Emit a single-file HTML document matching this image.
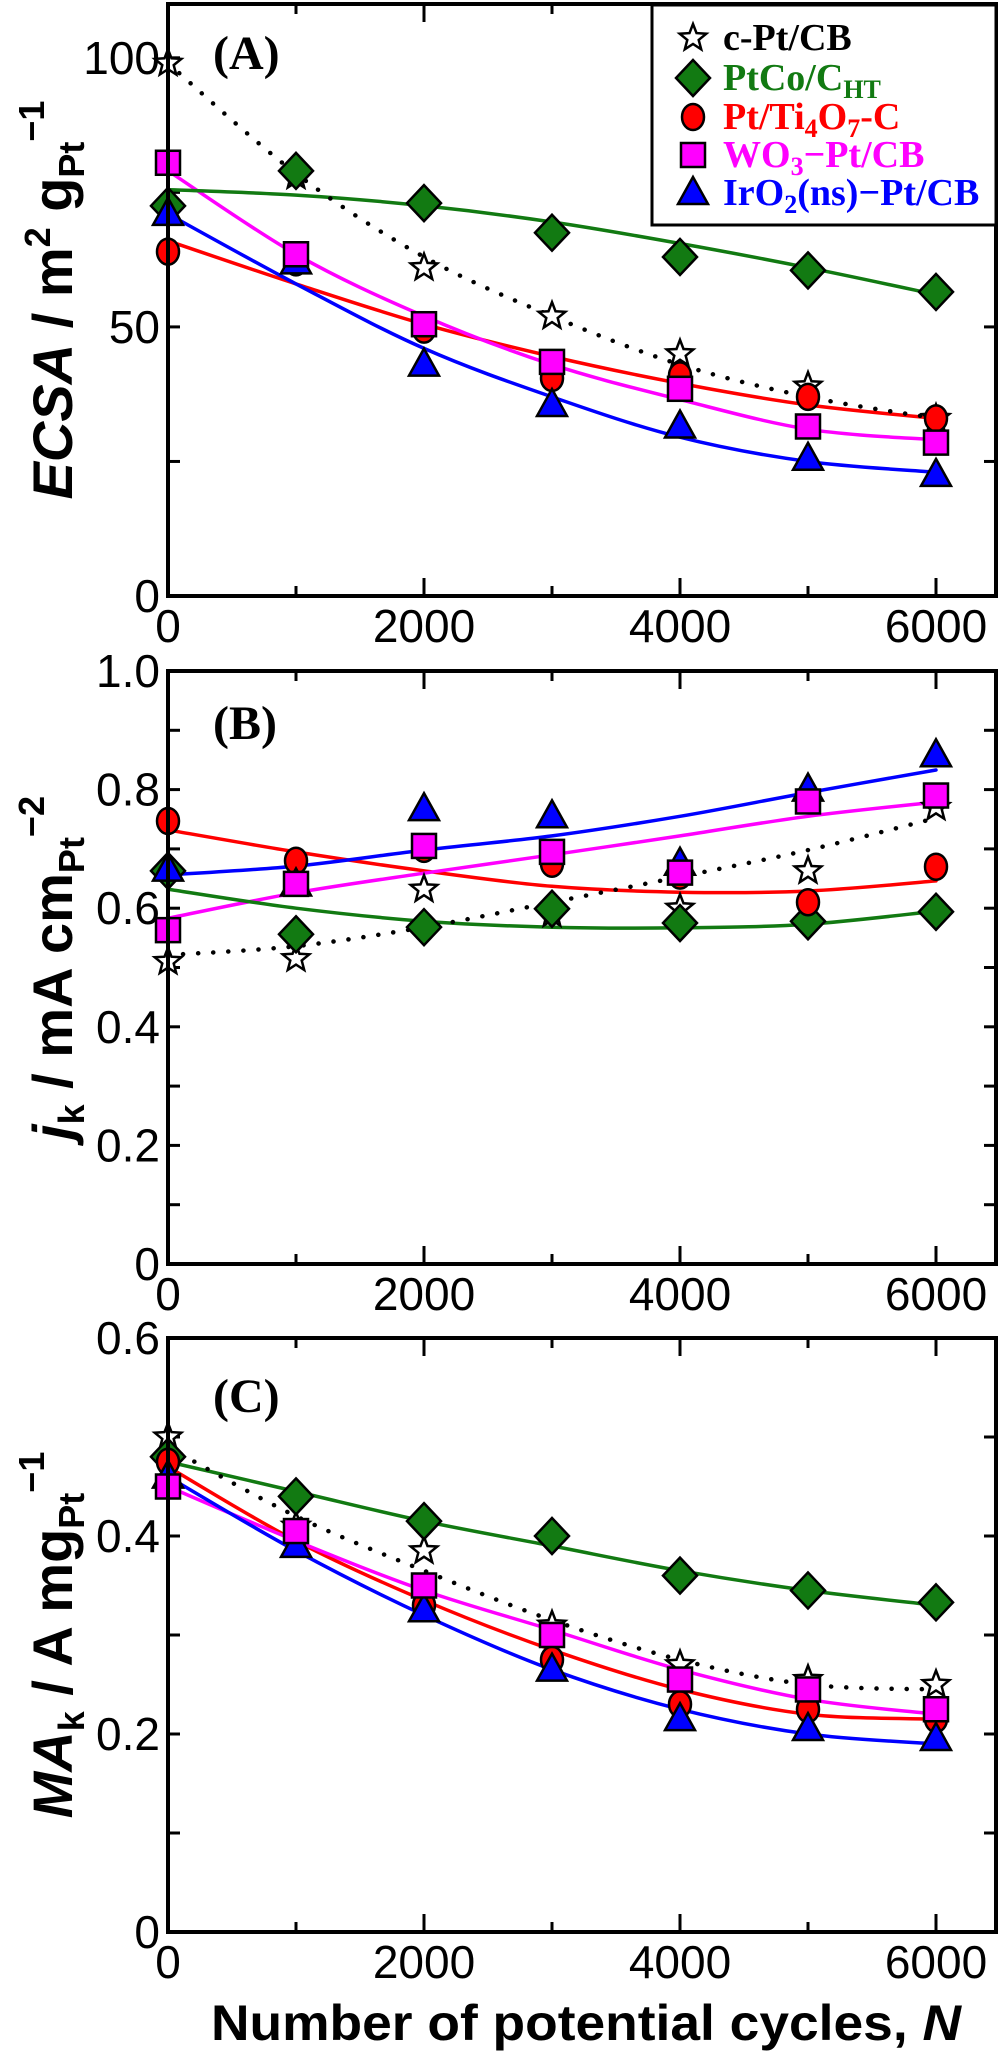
<!DOCTYPE html>
<html><head><meta charset="utf-8"><style>
html,body{margin:0;padding:0;background:#fff}
svg{display:block}
text{font-family:"Liberation Sans",sans-serif}
.tl{font-size:46px}
.leg{font-family:"Liberation Serif",serif;font-weight:bold;font-size:38px}
.pl{font-family:"Liberation Serif",serif;font-weight:bold;font-size:48px}
.yt{font-weight:bold;font-size:56px}
</style></head><body>
<svg id="chart" width="1002" height="2052" viewBox="0 0 1002 2052" xmlns="http://www.w3.org/2000/svg">
<g id="plots"></g>
<g>
<rect x="652" y="5" width="344" height="220" fill="#fff" stroke="#000" stroke-width="3"/>
<g id="legmarks"></g>
<text class="leg" x="723" y="50" fill="#000">c-Pt/CB</text>
<text class="leg" x="723" y="90" fill="#127a12">PtCo/C<tspan font-size="26" dy="8">HT</tspan></text>
<text class="leg" x="723" y="129" fill="#ff0000">Pt/Ti<tspan font-size="26" dy="8">4</tspan><tspan dy="-8">O</tspan><tspan font-size="26" dy="8">7</tspan><tspan dy="-8">-C</tspan></text>
<text class="leg" x="723" y="167" fill="#ff00ff">WO<tspan font-size="26" dy="8">3</tspan><tspan dy="-8">−Pt/CB</tspan></text>
<text class="leg" x="723" y="205" fill="#0000ff">IrO<tspan font-size="26" dy="8">2</tspan><tspan dy="-8">(ns)−Pt/CB</tspan></text>
</g>
<text class="yt" transform="translate(72,300) rotate(-90)" text-anchor="middle"><tspan font-style="italic">ECSA</tspan> / m<tspan font-size="36" dy="-22">2</tspan><tspan dy="22"> g</tspan><tspan font-size="36" dy="12">Pt</tspan><tspan font-size="36" dy="-40">−1</tspan></text>
<text class="yt" transform="translate(72,968) rotate(-90)" text-anchor="middle"><tspan font-style="italic">j</tspan><tspan font-size="36" dy="12">k</tspan><tspan dy="-12"> / mA cm</tspan><tspan font-size="36" dy="12">Pt</tspan><tspan font-size="36" dy="-40">−2</tspan></text>
<text class="yt" transform="translate(72,1635) rotate(-90)" text-anchor="middle"><tspan font-style="italic">MA</tspan><tspan font-size="36" dy="12">k</tspan><tspan dy="-12"> / A mg</tspan><tspan font-size="36" dy="12">Pt</tspan><tspan font-size="36" dy="-40">−1</tspan></text>
<text x="586" y="2040" text-anchor="middle" font-weight="bold" font-size="50" textLength="750" lengthAdjust="spacingAndGlyphs">Number of potential cycles, <tspan font-style="italic">N</tspan></text>
</svg>
<script>
const cycles=[0,1000,2000,3000,4000,5000,6000];
const xTicks=[0,2000,4000,6000];
// Panel A
const aStar=[99,78,61,52,45,39,33];
const aDiamond=[72.5,79,73,67.5,63,60.5,56.5];
const aCircle=[64,62,49.5,40.5,41,37,33];
const aSquare=[80.5,63.5,50.5,43.5,38.5,31.5,28.5];
const aTriangle=[71,62,43,35.5,31.5,25.5,22.5];
const aFitStar=[99,78.5,63,52,43,37,33];
const aFitDiamond=[75.5,74.5,72.5,69.5,65.5,61,56];
const aFitCircle=[66,58,50.5,44.5,39.5,35.5,33];
const aFitSquare=[79,63.5,52,43,36.5,31,29];
const aFitTriangle=[71,58,46,37,29.5,25,23];
const aTicks=["0","50","100"];
// Panel B
const bStar=[0.51,0.515,0.632,0.59,0.60,0.663,0.77];
const bDiamond=[0.663,0.556,0.568,0.599,0.575,0.578,0.594];
const bCircle=[0.747,0.68,0.70,0.675,0.655,0.61,0.67];
const bSquare=[0.563,0.641,0.705,0.695,0.66,0.78,0.79];
const bTriangle=[0.665,0.64,0.767,0.755,0.675,0.80,0.858];
const bFitStar=[0.521,0.536,0.568,0.61,0.653,0.698,0.752];
const bFitDiamond=[0.632,0.60,0.578,0.568,0.567,0.573,0.595];
const bFitCircle=[0.732,0.695,0.663,0.637,0.627,0.629,0.646];
const bFitSquare=[0.583,0.626,0.659,0.69,0.722,0.755,0.779];
const bFitTriangle=[0.656,0.671,0.698,0.722,0.755,0.795,0.833];
const bTicks=["0","0.2","0.4","0.6","0.8","1.0"];
// Panel C
const cStar=[0.50,0.41,0.385,0.31,0.27,0.255,0.25];
const cDiamond=[0.48,0.44,0.415,0.40,0.36,0.345,0.333];
const cCircle=[0.475,0.40,0.33,0.275,0.23,0.225,0.215];
const cSquare=[0.45,0.405,0.35,0.30,0.255,0.245,0.225];
const cTriangle=[0.46,0.39,0.325,0.265,0.215,0.205,0.195];
const cFitStar=[0.49,0.42,0.365,0.315,0.275,0.25,0.245];
const cFitDiamond=[0.475,0.445,0.415,0.39,0.365,0.345,0.33];
const cFitCircle=[0.47,0.395,0.335,0.285,0.245,0.22,0.215];
const cFitSquare=[0.45,0.395,0.345,0.305,0.265,0.235,0.22];
const cFitTriangle=[0.46,0.385,0.32,0.265,0.225,0.20,0.19];
const cTicks=["0","0.2","0.4","0.6"];

const NS="http://www.w3.org/2000/svg";
const root=document.getElementById('plots');
function mk(tag,attrs,parent){const e=document.createElementNS(NS,tag);for(const k in attrs)e.setAttribute(k,attrs[k]);(parent||root).appendChild(e);return e;}
const X0=168,X1=996,XS=128/1000;
function xs(v){return X0+v*XS;}
const colors={star:'#fff',diamond:'#127a12',circle:'#ff0000',square:'#ff00ff',triangle:'#0000ff'};
const lineCol={star:'#000',diamond:'#127a12',circle:'#ff0000',square:'#ff00ff',triangle:'#0000ff'};
function marker(type,cx,cy,g){
  let e;
  const st={stroke:'#000','stroke-width':2.5,fill:colors[type]};
  if(type==='star'){let p=[];for(let i=0;i<10;i++){const r=i%2?6:14,a=-Math.PI/2+i*Math.PI/5;p.push((cx+r*Math.cos(a)).toFixed(1)+','+(cy+r*Math.sin(a)).toFixed(1));}e=mk('polygon',Object.assign({points:p.join(' ')},st),g);}
  else if(type==='diamond'){e=mk('polygon',Object.assign({points:`${cx},${cy-18} ${cx+17},${cy} ${cx},${cy+18} ${cx-17},${cy}`},st),g);}
  else if(type==='circle'){e=mk('ellipse',Object.assign({cx:cx,cy:cy,rx:11,ry:13},st),g);}
  else if(type==='square'){e=mk('rect',Object.assign({x:cx-12,y:cy-12,width:24,height:24},st),g);}
  else {e=mk('polygon',Object.assign({points:`${cx},${cy-16} ${cx+15},${cy+11} ${cx-15},${cy+11}`},st),g);}
  return e;
}
function smooth(pts){let d='M'+pts[0][0]+','+pts[0][1];for(let i=0;i<pts.length-1;i++){const p0=pts[Math.max(0,i-1)],p1=pts[i],p2=pts[i+1],p3=pts[Math.min(pts.length-1,i+2)];const c1=[p1[0]+(p2[0]-p0[0])/6,p1[1]+(p2[1]-p0[1])/6],c2=[p2[0]-(p3[0]-p1[0])/6,p2[1]-(p3[1]-p1[1])/6];d+=` C${c1[0].toFixed(1)},${c1[1].toFixed(1)} ${c2[0].toFixed(1)},${c2[1].toFixed(1)} ${p2[0].toFixed(1)},${p2[1].toFixed(1)}`;}return d;}
function panel(name,top,bot,ymax,minorStep,labels,label,labelY,series,fits){
  const g=mk('g',{});
  
  
  const ys=v=>bot-(v/ymax)*(bot-top);
  for(let v=0;v<=ymax+1e-9;v+=minorStep){const y=ys(v);
    mk('line',{x1:X0,y1:y,x2:X0+12,y2:y,stroke:'#000','stroke-width':3},g);
    mk('line',{x1:X1,y1:y,x2:X1-12,y2:y,stroke:'#000','stroke-width':3},g);}
  labels.forEach(t=>{const v=parseFloat(t);const tx=mk('text',{x:160,y:ys(v)+16,'text-anchor':'end',class:'tl'},g);tx.textContent=t;
    
    });
  for(let v=0;v<=6000;v+=1000){const x=xs(v),L=v%2000===0?18:10;
    mk('line',{x1:x,y1:bot,x2:x,y2:bot-L,stroke:'#000','stroke-width':3},g);
    mk('line',{x1:x,y1:top,x2:x,y2:top+L,stroke:'#000','stroke-width':3},g);}
  xTicks.forEach(v=>{const tx=mk('text',{x:xs(v),y:bot+46,'text-anchor':'middle',class:'tl'},g);tx.textContent=String(v);
    
    });
  const order=['circle','square','triangle','diamond','star'];
  order.forEach(k=>{const pts=cycles.map((c,i)=>[xs(c),ys(fits[k][i])]);
    const p=mk('path',{d:smooth(pts),fill:'none',stroke:lineCol[k],'stroke-width':k==='star'?4.5:3.5,'stroke-dasharray':k==='star'?'0.1 15':'none','stroke-linecap':'round'},g);
    
    });
  ['star','diamond','circle','triangle','square'].forEach(k=>{const sg=mk('g',{},g);
    
    
    cycles.forEach((c,i)=>{const m=marker(k,xs(c),ys(series[k][i]),sg);
      
      });});
  mk('rect',{x:X0,y:top,width:X1-X0,height:bot-top,fill:'none',stroke:'#000','stroke-width':4},g);
  const pl=mk('text',{x:213,y:labelY,class:'pl'},g);pl.textContent=label;
  
  
}
panel('a',4,596,110,25,aTicks,'(A)',69,
 {star:aStar,diamond:aDiamond,circle:aCircle,square:aSquare,triangle:aTriangle},
 {star:aFitStar,diamond:aFitDiamond,circle:aFitCircle,square:aFitSquare,triangle:aFitTriangle});
panel('b',671,1264,1.0,0.1,bTicks,'(B)',739,
 {star:bStar,diamond:bDiamond,circle:bCircle,square:bSquare,triangle:bTriangle},
 {star:bFitStar,diamond:bFitDiamond,circle:bFitCircle,square:bFitSquare,triangle:bFitTriangle});
panel('c',1338,1932,0.6,0.1,cTicks,'(C)',1412,
 {star:cStar,diamond:cDiamond,circle:cCircle,square:cSquare,triangle:cTriangle},
 {star:cFitStar,diamond:cFitDiamond,circle:cFitCircle,square:cFitSquare,triangle:cFitTriangle});
const lg=document.getElementById('legmarks');
[['star',38],['diamond',78],['circle',117],['square',155],['triangle',193]].forEach(([k,y])=>{const m=marker(k,693,y,lg);
  
  });
</script>
</body></html>
